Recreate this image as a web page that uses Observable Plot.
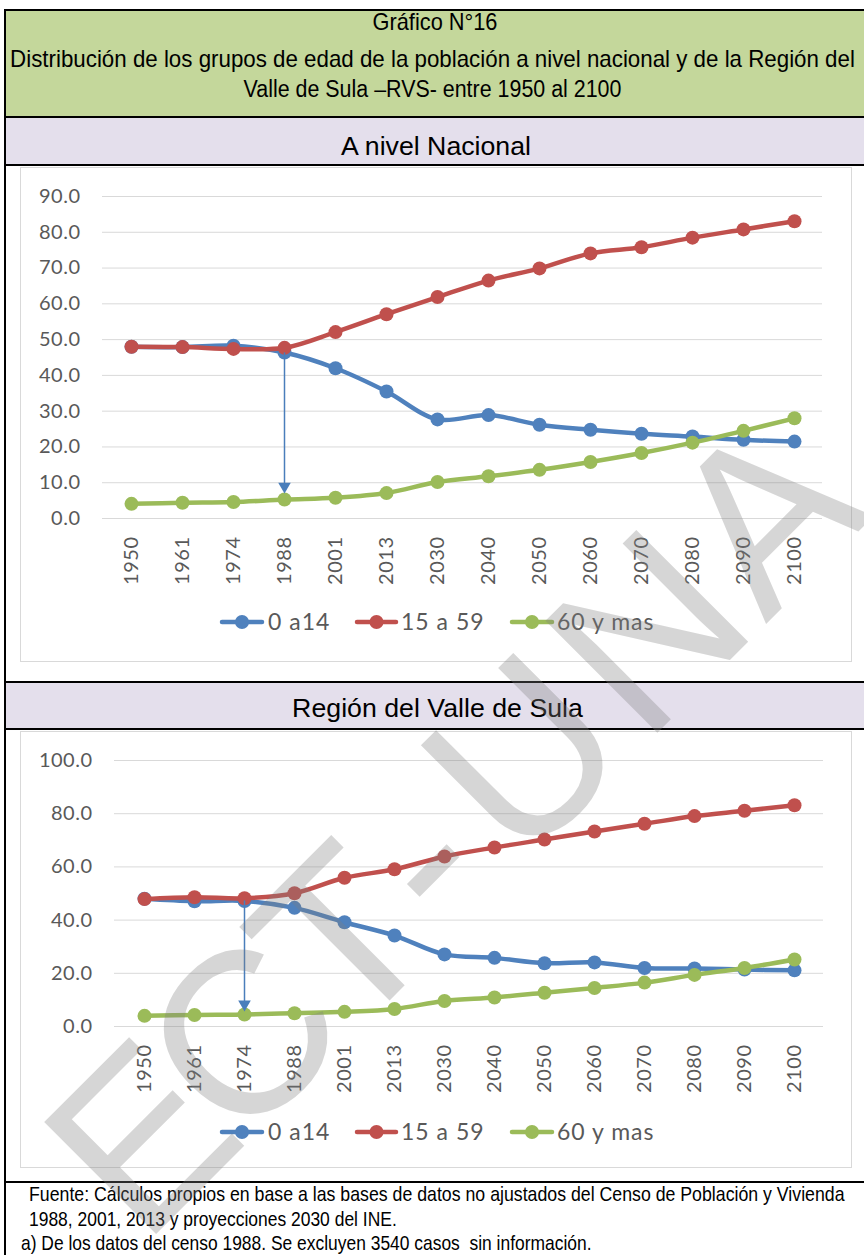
<!DOCTYPE html>
<html>
<head>
<meta charset="utf-8">
<script src="https://cdn.jsdelivr.net/npm/d3@7"></script>
<script src="https://cdn.jsdelivr.net/npm/@observablehq/plot@0.6"></script>
<style>
  html, body { margin: 0; padding: 0; background: #fff; }
  body { width: 864px; height: 1255px; position: relative; overflow: hidden; }
  .layer { position: absolute; left: 0; top: 0; }
  #bg { z-index: 0; }
  #chart1, #chart2 { position: absolute; left: 0; z-index: 1; }
  #chart1 { top: 165px; }
  #chart2 { top: 729px; }
  #wm { z-index: 2; pointer-events: none; }
  text.pre { white-space: pre; }
</style>
</head>
<body>
<svg id="bg" class="layer" width="864" height="1255"></svg>
<div id="chart1"></div>
<div id="chart2"></div>
<svg id="wm" class="layer" width="864" height="1255"></svg>
<script>
// ---------------- data ----------------
const years = ["1950","1961","1974","1988","2001","2013","2030","2040","2050","2060","2070","2080","2090","2100"];
const seriesNames = ["0 a14", "15 a 59", "60 y mas"];
const seriesColors = ["#4F81BD", "#C0504D", "#9BBB59"];

const nacional_0a14   = [48.0, 47.9, 48.3, 46.4, 42.0, 35.5, 27.7, 28.9, 26.2, 24.8, 23.7, 22.9, 22.0, 21.5];
const nacional_15a59  = [48.0, 47.9, 47.4, 47.7, 52.1, 57.1, 61.9, 66.5, 69.9, 74.1, 75.8, 78.5, 80.8, 83.1];
const nacional_60ymas = [4.1, 4.4, 4.6, 5.3, 5.8, 7.1, 10.2, 11.8, 13.6, 15.8, 18.3, 21.2, 24.5, 28.0];

const rvs_0a14   = [48.0, 47.1, 47.2, 44.6, 39.2, 34.2, 27.1, 25.8, 23.8, 24.1, 22.0, 21.8, 21.4, 21.1];
const rvs_15a59  = [47.9, 48.6, 48.2, 50.1, 55.9, 59.1, 63.9, 67.3, 70.3, 73.3, 76.2, 79.1, 81.1, 83.2];
const rvs_60ymas = [4.0, 4.3, 4.5, 5.0, 5.5, 6.6, 9.6, 10.9, 12.7, 14.5, 16.5, 19.4, 22.0, 25.2];

const nacionalTicks = [0, 10, 20, 30, 40, 50, 60, 70, 80, 90];
const rvsTicks = [0, 20, 40, 60, 80, 100];

// annotation arrows (year, start value, arrow-head value)
const nacionalArrow = [{year: "1988", from: 46.4, head: 9.0}];
const rvsArrow = [{year: "1974", from: 47.4, head: 8.4}];

const titleLines = [
  "Gráfico N°16",
  "Distribución de los grupos de edad de la población a nivel nacional y de la Región del",
  "Valle de Sula –RVS- entre 1950 al 2100"
];
const panelTitles = ["A nivel Nacional", "Región del Valle de Sula"];
const footerLines = [
  "Fuente: Cálculos propios en base a las bases de datos no ajustados del Censo de Población y Vivienda",
  "1988, 2001, 2013 y proyecciones 2030 del INE.",
  "a) De los datos del censo 1988. Se excluyen 3540 casos  sin información."
];
const watermark = "ECT-UNA";

// ---------------- charts ----------------
function tidy(seriesArrays) {
  return seriesArrays.flatMap((vals, s) =>
    vals.map((v, i) => ({year: years[i], serie: seriesNames[s], value: v})));
}

function makeChart(seriesArrays, ticks, yMax, arrow, dims) {
  const data = tidy(seriesArrays);
  const marks = [Plot.ruleY(ticks, {stroke: "#d9d9d9", strokeWidth: 1})];
  seriesNames.forEach((name, s) => {
    const d = data.filter(r => r.serie === name);
    marks.push(Plot.line(d, {x: "year", y: "value", stroke: seriesColors[s], strokeWidth: 4.5,
      curve: "catmull-rom", strokeLinejoin: "round", strokeLinecap: "round"}));
    marks.push(Plot.dot(d, {x: "year", y: "value", fill: seriesColors[s], r: 7}));
  });
  marks.push(Plot.link(arrow, {x1: "year", x2: "year", y1: "from", y2: "head", stroke: "#4A7EBB", strokeWidth: 1.5}));
  marks.push(Plot.dot(arrow, {x: "year", y: "head", symbol: "triangle2", rotate: 180, r: 6, fill: "#4A7EBB"}));
  marks.push(Plot.axisY({ticks, tickFormat: d3.format(".1f"), tickSize: 0, tickPadding: 22, fontSize: 20}));
  marks.push(Plot.axisX({tickSize: 0, tickPadding: 18, tickRotate: -90, fontSize: 20}));
  return Plot.plot({
    width: 864,
    height: dims.height,
    marginTop: dims.marginTop,
    marginBottom: dims.marginBottom,
    marginLeft: dims.marginLeft,
    marginRight: dims.marginRight,
    x: {type: "point", domain: years, padding: 0.5, label: null, axis: null},
    y: {domain: [0, yMax], label: null, axis: null},
    style: {background: "transparent", fontFamily: "Lato, 'Open Sans', sans-serif", color: "#595959",
            letterSpacing: "0.5px", overflow: "visible"},
    marks
  });
}

document.getElementById("chart1").appendChild(
  makeChart([nacional_0a14, nacional_15a59, nacional_60ymas], nacionalTicks, 90, nacionalArrow,
    {height: 440, marginTop: 31, marginBottom: 87, marginLeft: 102, marginRight: 42}));
document.getElementById("chart2").appendChild(
  makeChart([rvs_0a14, rvs_15a59, rvs_60ymas], rvsTicks, 100, rvsArrow,
    {height: 380, marginTop: 31, marginBottom: 83, marginLeft: 114, marginRight: 41}));

// ---------------- page frame, titles, legends ----------------
const bg = d3.select("#bg");
// fills
bg.append("rect").attr("x", 5).attr("y", 10).attr("width", 859).attr("height", 107).attr("fill", "#C4D79B");
bg.append("rect").attr("x", 5).attr("y", 117).attr("width", 859).attr("height", 48).attr("fill", "#E4DFEC");
bg.append("rect").attr("x", 5).attr("y", 682).attr("width", 859).attr("height", 47).attr("fill", "#E4DFEC");
// inner chart frames
bg.append("rect").attr("x", 20.5).attr("y", 167.5).attr("width", 831).attr("height", 494)
  .attr("fill", "none").attr("stroke", "#d9d9d9");
bg.append("rect").attr("x", 20.5).attr("y", 731.5).attr("width", 831).attr("height", 436)
  .attr("fill", "none").attr("stroke", "#d9d9d9");
// black rules
[10, 117, 165, 682, 729, 1182].forEach(y =>
  bg.append("rect").attr("x", 4).attr("y", y - 1).attr("width", 860).attr("height", 2).attr("fill", "#000"));
bg.append("rect").attr("x", 4).attr("y", 9).attr("width", 2).attr("height", 1246).attr("fill", "#000");

const narrow = "'Liberation Sans Narrow', 'Arial Narrow', 'Liberation Sans', sans-serif";
const regular = "'Liberation Sans', Arial, sans-serif";
// draws a text and squeezes it horizontally to the width it has in the reference
function fitText(sel, str, x, y, len, size, family, anchor) {
  const t = sel.append("text").attr("class", "pre")
    .attr("text-anchor", anchor).attr("font-family", family).attr("font-size", size)
    .attr("fill", "#000").text(str);
  const natural = t.node().getComputedTextLength() || len;
  const sx = len / natural;
  t.attr("transform", `translate(${x},${y}) scale(${sx},1)`);
}
fitText(bg, titleLines[0], 435, 30, 125, 23, narrow, "middle");
fitText(bg, titleLines[1], 432.5, 67, 845, 23, narrow, "middle");
fitText(bg, titleLines[2], 432.5, 97, 378, 23, narrow, "middle");
fitText(bg, panelTitles[0], 436, 155, 190, 26, regular, "middle");
fitText(bg, panelTitles[1], 437.5, 717, 291, 26, regular, "middle");
fitText(bg, footerLines[0], 29, 1201, 816, 20.5, narrow, "start");
fitText(bg, footerLines[1], 29, 1226, 368, 20.5, narrow, "start");
fitText(bg, footerLines[2], 21, 1250, 571, 20.5, narrow, "start");

// legends
function legend(cy) {
  const items = [{x1: 222, x2: 262, tx: 268}, {x1: 357, x2: 396, tx: 401}, {x1: 512, x2: 552, tx: 557}];
  items.forEach((it, i) => {
    const g = bg.append("g");
    g.append("line").attr("x1", it.x1).attr("x2", it.x2).attr("y1", cy).attr("y2", cy)
      .attr("stroke", seriesColors[i]).attr("stroke-width", 4.5).attr("stroke-linecap", "round");
    g.append("circle").attr("cx", (it.x1 + it.x2) / 2).attr("cy", cy).attr("r", 7).attr("fill", seriesColors[i]);
    g.append("text").attr("x", it.tx).attr("y", cy + 8).attr("font-family", "Lato, 'Open Sans', sans-serif")
      .attr("font-size", 23).attr("letter-spacing", "1px").attr("fill", "#595959").text(seriesNames[i]);
  });
}
legend(622);
legend(1132);

// watermark
d3.select("#wm").append("text")
  .attr("transform", "translate(137,1253) rotate(-45)")
  .attr("x", "85 228 368 480 625 800 966")
  .attr("y", 0)
  .attr("text-anchor", "middle")
  .attr("font-family", regular)
  .attr("font-size", 230)
  .attr("fill", "#808080").attr("fill-opacity", 0.32)
  .text(watermark);
</script>
</body>
</html>
